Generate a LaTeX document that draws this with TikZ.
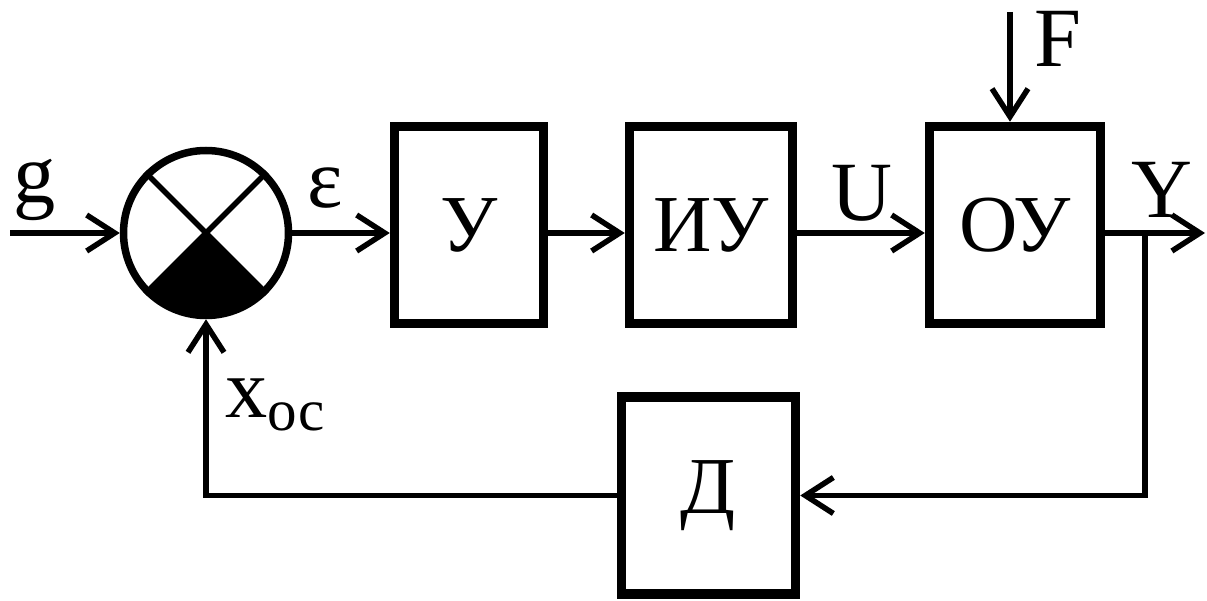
\documentclass[tikz,border=0pt]{standalone}
\usepackage{fontspec}
\setmainfont{Liberation Serif}
\usepackage{tikz}
\usetikzlibrary{arrows.meta}
\usetikzlibrary{positioning}

\tikzset{
  block/.style={draw, line width=0.095cm, minimum width=#1, minimum height=1.97cm,
    inner sep=0pt, font=\fontsize{23}{26}\selectfont},
  block/.default=1.6cm,
  link/.style={line width=0.065cm,
    -{Straight Barb[length=0.28cm, width=0.36cm, line width=0.055cm]}},
  sig/.style={font=\fontsize{24}{28}\selectfont, inner sep=0pt}
}

\begin{document}
\begin{tikzpicture}

  \useasboundingbox (0,0) rectangle (12.07,6.00);

  % ---------- Comparator ----------

  \node[draw, circle, line width=0.075cm, minimum size=1.65cm, inner sep=0pt] at (2.06, 3.67) (sum) {};
  \fill (sum.center) -- ++(-45:0.83) arc (-45:-135:0.83) -- cycle;
  \draw[line width=0.055cm] (sum.north west) -- (sum.south east);
  \draw[line width=0.055cm] (sum.north east) -- (sum.south west);

  % ---------- Blocks ----------

  \node[block=1.49cm] at (4.69, 3.75) (U) {У};
  \node[block=1.63cm] at (7.11, 3.75) (IU) {ИУ};
  \node[block=1.71cm] at (10.15, 3.75) (OU) {ОУ};
  \node[block=1.74cm] at (7.085, 1.045) (D) {Д};

  % ---------- Free ends ----------

  \coordinate (gin) at (0.10, 3.67);
  \coordinate (yout) at (12.05, 3.67);
  \coordinate (fin) at (10.10, 5.88);
  \coordinate (split) at (11.45, 3.67);

  % ---------- Lines ----------

  \draw[link] (gin) -- (sum);
  \draw[link] (sum) -- (U.west |- sum);
  \draw[link] (U.east |- sum) -- (IU.west |- sum);
  \draw[link] (IU.east |- sum) -- (OU.west |- sum);
  \draw[link] (OU.east |- sum) -- (yout);
  \draw[link] (fin) -- (fin |- OU.north);
  \draw[link, line width=0.055cm] (split) |- (D);
  \draw[link, line width=0.055cm] (D) -| (sum);

  % ---------- Labels ----------

  \node[sig] at (0.35, 4.10) (glab) {g};
  \node[sig] at (3.25, 4.12) (elab) {ε};
  \node[sig] at (2.76, 1.95) (xlab) {x\textsubscript{ос}};
  \node[sig] at (8.62, 4.07) (ulab) {U};
  \node[sig] at (10.58, 5.61) (flab) {F};
  \node[sig] at (11.62, 4.10) (ylab) {Y};
\end{tikzpicture}
\end{document}
